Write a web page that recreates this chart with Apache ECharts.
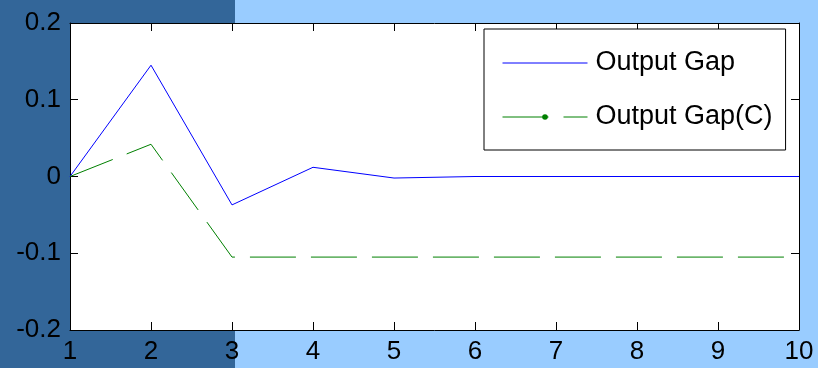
<!DOCTYPE html>
<html><head><meta charset="utf-8">
<script src="https://cdn.jsdelivr.net/npm/echarts@6/dist/echarts.min.js"></script>
<style>html,body{margin:0;padding:0;background:#99ccff;}#c{width:818px;height:368px;}</style>
</head><body><div id="c"></div>
<script>
var periods = [1, 2, 3, 4, 5, 6, 7, 8, 9, 10];
var outputGap = [0, 0.145, -0.037, 0.012, -0.002, 0, 0, 0, 0, 0];
var outputGapC = [0, 0.042, -0.105, -0.105, -0.105, -0.105, -0.105, -0.105, -0.105, -0.105];
var seriesNames = ['Output Gap', 'Output Gap(C)'];
var yTicks = [-0.2, -0.1, 0, 0.1, 0.2];

var chart = echarts.init(document.getElementById('c'));
var font = 'Liberation Sans, Arial, sans-serif';
function pairs(v) { return periods.map(function (x, i) { return [x, v[i]]; }); }
var axisCommon = {
  type: 'value', splitLine: { show: false },
  axisLine: { show: true, onZero: false, lineStyle: { color: '#000', width: 1 } },
  axisTick: { show: true, inside: true, length: 8, lineStyle: { color: '#000' } }
};
chart.setOption({
  backgroundColor: '#99ccff',
  animation: false,
  graphic: [{ type: 'rect', z: -10, silent: true, shape: { x: 0, y: 0, width: 235, height: 368 }, style: { fill: '#336699' } }],
  grid: { left: 70, right: 19, top: 23, bottom: 38, show: true, backgroundColor: '#ffffff', borderWidth: 0, outerBoundsMode: 'none' },
  xAxis: [
    Object.assign({}, axisCommon, { position: 'bottom', min: 1, max: 10, interval: 1,
      axisLabel: { color: '#000', fontSize: 26, fontFamily: font, margin: 9 } }),
    Object.assign({}, axisCommon, { position: 'top', min: 1, max: 10, interval: 1, axisLabel: { show: false } })
  ],
  yAxis: [
    Object.assign({}, axisCommon, { position: 'left', min: yTicks[0], max: yTicks[yTicks.length - 1], interval: 0.1,
      axisLabel: { color: '#000', fontSize: 26, fontFamily: font, margin: 9,
        formatter: function (v) { return String(Math.round(v * 10) / 10); } } }),
    Object.assign({}, axisCommon, { position: 'right', min: yTicks[0], max: yTicks[yTicks.length - 1], interval: 0.1, axisLabel: { show: false } })
  ],
  legend: {
    orient: 'vertical', left: 484, top: 29,
    backgroundColor: '#ffffff', borderColor: '#000', borderWidth: 1,
    padding: [19, 13, 18, 18], itemGap: 24, itemWidth: 85, itemHeight: 7,
    lineStyle: { width: 1 },
    textStyle: { color: '#000', fontSize: 27, fontFamily: font, lineHeight: 30, padding: [0, 0, 0, 3] },
    data: [
      { name: seriesNames[0], itemStyle: { opacity: 0 } },
      { name: seriesNames[1] }
    ]
  },
  series: [
    { name: seriesNames[0], type: 'line', data: pairs(outputGap), symbol: 'none', showSymbol: false,
      lineStyle: { color: '#0000ff', width: 1 }, itemStyle: { color: '#0000ff' } },
    { name: seriesNames[1], type: 'line', data: pairs(outputGapC), symbol: 'circle', symbolSize: 5, showSymbol: false,
      lineStyle: { color: '#008000', width: 1, type: [46, 15] }, itemStyle: { color: '#008000' } }
  ]
});
</script></body></html>
